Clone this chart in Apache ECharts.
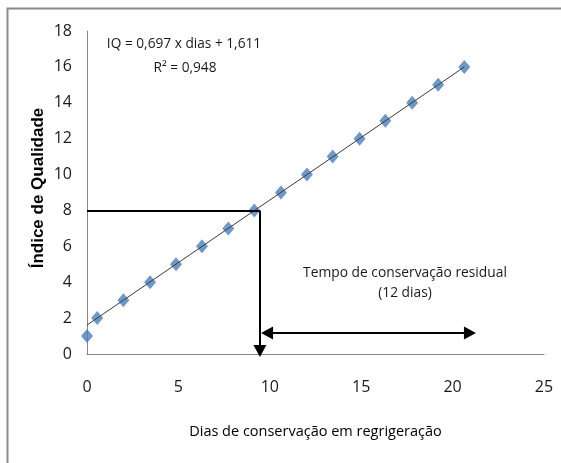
<!DOCTYPE html>
<html>
<head>
<meta charset="utf-8">
<script src="https://cdn.jsdelivr.net/npm/echarts@6/dist/echarts.min.js"></script>
<style>
html,body{margin:0;padding:0;background:#fff;}
#chart{width:561px;height:463px;}
</style>
</head>
<body>
<div id="chart"></div>
<script>
// Data
const days = [0, 0.56, 1.99, 3.45, 4.87, 6.29, 7.73, 9.15, 10.61, 12.03, 13.44, 14.91, 16.32, 17.79, 19.21, 20.64];
const quality = [1, 2, 3, 4, 5, 6, 7, 8, 9, 10, 11, 12, 13, 14, 15, 16];
const xTicks = [0, 5, 10, 15, 20, 25];
const yTicks = [0, 2, 4, 6, 8, 10, 12, 14, 16, 18];
const slope = 0.697;
const intercept = 1.611;
const trendRange = [0, 20.64];
const targetIQ = 8;
const targetDay = 9.46;
const arrowDownEnd = 0.17;      // centre of the downward arrow head
const residualStart = 9.85;     // centre of the left arrow head
const residualEnd = 20.95;      // centre of the right arrow head
const residualLevel = 1.17;
const equationText = 'IQ = 0,697 x dias + 1,611';
const r2Text = 'R\u00B2 = 0,948';
const residualText = ['Tempo de conservação residual', '(12 dias)'];
const xTitle = 'Dias de conservação em regrigeração';
const yTitle = 'Índice de Qualidade';

const narrow = "'Liberation Sans Narrow', 'Open Sans', sans-serif";
const tri = 'path://M0,0L6,12L-6,12Z';

const points = days.map((d, i) => [d, quality[i]]);
const trend = trendRange.map(x => [x, slope * x + intercept]);

const chart = echarts.init(document.getElementById('chart'), null, {renderer: 'canvas'});
chart.setOption({
  animation: false,
  backgroundColor: '#fff',
  grid: {left: 87, right: 17, top: 31, bottom: 109, containLabel: false},
  xAxis: {
    type: 'value', min: xTicks[0], max: xTicks[xTicks.length - 1], interval: 5,
    axisLine: {show: true, lineStyle: {color: '#868686', width: 1}},
    axisTick: {show: false},
    splitLine: {show: false},
    axisLabel: {margin: 25, fontSize: 16, color: '#1a1a1a', fontFamily: narrow},
    name: xTitle, nameLocation: 'middle', nameGap: 70,
    nameTextStyle: {fontSize: 14.5, color: '#000', fontFamily: narrow}
  },
  yAxis: {
    type: 'value', min: yTicks[0], max: yTicks[yTicks.length - 1], interval: 2,
    axisLine: {show: true, lineStyle: {color: '#868686', width: 1}},
    axisTick: {show: false},
    splitLine: {show: false},
    axisLabel: {margin: 15, fontSize: 16, color: '#1a1a1a', fontFamily: narrow}
  },
  series: [
    {
      type: 'scatter', data: points, clip: false,
      symbol: 'diamond', symbolSize: [12, 14],
      itemStyle: {color: '#4a7ebb'}, z: 2,
      markLine: {
        silent: true, animation: false,
        label: {show: false},
        lineStyle: {color: '#000', width: 2, type: 'solid'},
        symbolSize: [13, 12],
        data: [
          [{coord: [0, targetIQ], symbol: 'none'}, {coord: [targetDay, targetIQ], symbol: 'none'}],
          [{coord: [targetDay, targetIQ], symbol: 'none'}, {coord: [targetDay, arrowDownEnd], symbol: tri}],
          [{coord: [residualStart, residualLevel], symbol: tri}, {coord: [residualEnd, residualLevel], symbol: tri}]
        ]
      }
    },
    {
      type: 'line', data: trend, clip: false, symbol: 'none',
      lineStyle: {color: '#3a3a3a', width: 1}, z: 3
    }
  ],
  graphic: [
    {type: 'rect', left: 5, top: 6, silent: true, z: -1,
      shape: {x: 0, y: 0, width: 700, height: 600},
      style: {fill: 'none', stroke: '#8a8a8a', lineWidth: 2}},
    {type: 'text', x: 38, y: 188, rotation: Math.PI / 2, silent: true,
      style: {text: yTitle, fontSize: 17, fontWeight: 'bold', fontFamily: "'Liberation Sans', Arial, sans-serif", fill: '#000', align: 'center', verticalAlign: 'middle'}},
    {type: 'text', x: 184, y: 44, silent: true,
      style: {text: equationText, fontSize: 13.7, fontFamily: narrow, fill: '#1a1a1a', align: 'center', verticalAlign: 'middle'}},
    {type: 'text', x: 185, y: 68, silent: true,
      style: {text: r2Text, fontSize: 13.7, fontFamily: narrow, fill: '#1a1a1a', align: 'center', verticalAlign: 'middle'}},
    {type: 'text', x: 405, y: 273, silent: true,
      style: {text: residualText[0], fontSize: 13.8, fontFamily: narrow, fill: '#1a1a1a', align: 'center', verticalAlign: 'middle'}},
    {type: 'text', x: 405, y: 293, silent: true,
      style: {text: residualText[1], fontSize: 13.8, fontFamily: narrow, fill: '#1a1a1a', align: 'center', verticalAlign: 'middle'}}
  ]
});
</script>
</body>
</html>
